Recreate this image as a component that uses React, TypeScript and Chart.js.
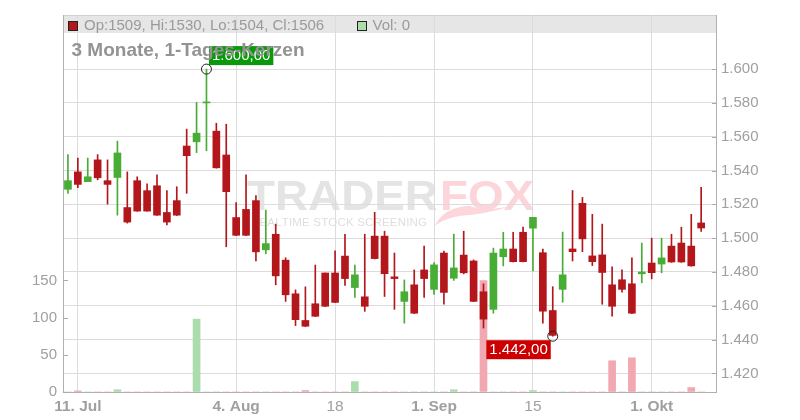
import React, { useEffect, useRef } from 'react';
import { Chart, registerables } from 'chart.js';

Chart.register(...registerables);

// ---- data (3 Monate, 1-Tages-Kerzen; index 0 = 10. Jul) ----
const opens = [1528.9, 1539.2, 1533.4, 1546.3, 1534.0, 1535.9, 1518.1, 1534.0, 1528.1, 1531.0,
  1515.2, 1522.2, 1554.5, 1557.0, 1580.0, 1563.3, 1549.2, 1512.2, 1517.0, 1522.2,
  1493.1, 1502.3, 1487.0, 1467.1, 1451.3, 1461.2, 1479.4, 1479.4, 1489.4, 1470.8,
  1465.3, 1501.2, 1501.2, 1477.1, 1462.6, 1472.4, 1481.2, 1469.7, 1491.2, 1476.3,
  1490.0, 1486.5, 1468.3, 1457.9, 1489.0, 1493.6, 1503.5, 1505.9, 1491.4, 1457.2,
  1469.7, 1493.6, 1520.6, 1489.5, 1490.1, 1472.4, 1475.4, 1473.0, 1478.9, 1485.3,
  1484.7, 1495.3, 1497.1, 1495.3, 1509];
const highs = [1549.4, 1547.4, 1547.4, 1549.4, 1546.3, 1557.4, 1539.2, 1536.3, 1532.2, 1537.5,
  1528.1, 1530.4, 1564.5, 1580.3, 1600.0, 1568.0, 1567.4, 1521.1, 1537.5, 1525.2,
  1516.6, 1508.3, 1488.4, 1469.4, 1471.2, 1484.1, 1479.4, 1492.5, 1502.3, 1484.1,
  1502.3, 1515.3, 1504.1, 1491.2, 1475.3, 1481.2, 1495.3, 1485.5, 1492.4, 1502.4,
  1504.1, 1487.1, 1473.0, 1494.1, 1503.5, 1503.5, 1506.5, 1512.3, 1493.6, 1471.3,
  1503.6, 1528.2, 1524.1, 1514.1, 1508.3, 1483.0, 1481.2, 1488.3, 1497.1, 1500.0,
  1500.0, 1502.3, 1506.5, 1514.1, 1530];
const lows = [1526.5, 1529.8, 1533.4, 1534.5, 1520.1, 1513.6, 1508.9, 1515.9, 1515.9, 1513.4,
  1507.8, 1513.4, 1526.5, 1550.6, 1551.7, 1541.4, 1494.9, 1501.5, 1501.5, 1486.5,
  1490.7, 1472.4, 1462.6, 1448.3, 1447.7, 1453.6, 1459.5, 1461.8, 1472.0, 1464.9,
  1456.7, 1487.7, 1465.5, 1457.9, 1449.7, 1455.4, 1465.0, 1466.7, 1460.9, 1475.0,
  1478.9, 1462.4, 1446.8, 1455.6, 1483.6, 1485.9, 1485.9, 1480.6, 1449.7, 1442.0,
  1462.1, 1486.5, 1492.0, 1483.8, 1460.9, 1453.8, 1468.0, 1455.4, 1473.6, 1475.9,
  1479.5, 1485.7, 1485.7, 1483.4, 1504];
const closes = [1534.0, 1531.8, 1536.3, 1535.7, 1531.8, 1550.4, 1509.5, 1516.0, 1516.0, 1513.6,
  1509.5, 1513.6, 1548.8, 1562.1, 1580.6, 1541.6, 1527.5, 1501.7, 1501.7, 1491.9,
  1496.8, 1477.7, 1466.5, 1451.8, 1447.9, 1453.8, 1459.7, 1462.0, 1476.1, 1478.3,
  1459.7, 1487.9, 1479.0, 1476.1, 1468.3, 1455.6, 1476.1, 1484.2, 1467.9, 1482.4,
  1479.5, 1462.6, 1452.1, 1491.2, 1493.6, 1486.1, 1486.1, 1512.3, 1456.8, 1442.5,
  1478.3, 1492.0, 1499.6, 1486.1, 1479.7, 1459.7, 1469.7, 1455.6, 1480.0, 1479.6,
  1488.3, 1485.9, 1485.9, 1483.6, 1506];
const volumes = [0, 1.5, 0, 0, 0, 3, 0, 0, 0, 0,
  0, 0, 0, 98, 0, 0, 0, 0, 0, 0,
  0, 0, 0, 0, 2, 0, 0, 0, 0, 14,
  0, 0, 0, 0, 0, 0, 0, 0, 0, 3,
  0, 0, 150, 0, 0, 0, 0, 2, 0, 0,
  0, 0, 0, 0, 0, 42, 0, 46, 0, 0,
  0, 0, 0, 6, 0];

const xTickIndex = [1, 17, 27, 37, 47, 59];
const xTickLabels = ['11. Jul', '4. Aug', '18', '1. Sep', '15', '1. Okt'];
const xTickBold = [true, true, false, true, false, true];
const priceTicks = [1420, 1440, 1460, 1480, 1500, 1520, 1540, 1560, 1580, 1600];
const volumeTicks = [0, 50, 100, 150];
const titleText = '3 Monate, 1-Tages-Kerzen';

const UP = '#47ad35';
const DOWN = '#b3161b';
const UP_VOL = '#abdcab';
const DOWN_VOL = '#f1a8b1';
const FONT = "'Liberation Sans', Arial, sans-serif";
const LABEL = '#a0a0a0';

function fmtDE(v: number, dec: number) {
  const parts = v.toFixed(dec).split('.');
  const withSep = parts[0].replace(/\B(?=(\d{3})+(?!\d))/g, '.');
  return parts[1] ? withSep + ',' + parts[1] : withSep;
}

const isUp = (i: number) => closes[i] >= opens[i];

const decor = {
  id: 'decor',
  beforeDraw(chart: any) {
    const { ctx, chartArea: a } = chart;
    ctx.save();
    // legend band
    ctx.fillStyle = '#e6e6e6';
    ctx.fillRect(a.left, a.top, a.right - a.left, 18);
    ctx.strokeStyle = '#d0d0d0';
    ctx.lineWidth = 1;
    ctx.beginPath();
    ctx.moveTo(a.left, a.top + 0.5);
    ctx.lineTo(a.right, a.top + 0.5);
    ctx.stroke();

    // watermark
    const cx = (a.left + a.right) / 2;
    ctx.font = `bold 43px ${FONT}`;
    ctx.textBaseline = 'alphabetic';
    ctx.textAlign = 'left';
    const wT = ctx.measureText('TRADER').width;
    const wF = ctx.measureText('FOX').width;
    const totalW = 285;
    const sx = totalW / (wT + wF);
    const x0 = cx - totalW / 2;
    const base = a.top + 194.7;
    ctx.save();
    ctx.translate(x0, base);
    ctx.scale(sx, 1);
    ctx.fillStyle = '#e4e4e4';
    ctx.fillText('TRADER', 0, 0);
    ctx.fillStyle = '#fcd5da';
    ctx.fillText('FOX', wT + 2, 0);
    ctx.restore();

    // fox tail swoosh
    ctx.fillStyle = '#fcd6db';
    ctx.beginPath();
    ctx.moveTo(x0 + 188, base + 16);
    ctx.quadraticCurveTo(x0 + 196, base - 2, x0 + 222, base - 4);
    ctx.lineTo(x0 + 232, base - 1);
    ctx.lineTo(x0 + 240, base - 5);
    ctx.lineTo(x0 + 246, base - 1);
    ctx.lineTo(x0 + 262, base - 3);
    ctx.quadraticCurveTo(x0 + 240, base + 4, x0 + 214, base + 6);
    ctx.quadraticCurveTo(x0 + 198, base + 8, x0 + 188, base + 16);
    ctx.fill();

    // subline
    const sub = 'REALTIME STOCK SCREENING';
    ctx.font = `11.5px ${FONT}`;
    ctx.fillStyle = '#dedede';
    let natural = 0;
    for (const ch of sub) natural += ctx.measureText(ch).width;
    const targetW = 176;
    const gap = (targetW - natural) / (sub.length - 1);
    let px = x0 + 4;
    for (const ch of sub) {
      ctx.fillText(ch, px, base + 16.6);
      px += ctx.measureText(ch).width + gap;
    }
    ctx.restore();
  },
  afterDatasetsDraw(chart: any) {
    const { ctx } = chart;
    const xs = chart.scales.x;
    const ys = chart.scales.y;
    ctx.save();
    ctx.font = `15px ${FONT}`;
    ctx.textBaseline = 'middle';
    ctx.textAlign = 'left';
    // high marker
    const hiVal = Math.max(...highs);
    const hiIdx = highs.indexOf(hiVal);
    const hx = xs.getPixelForValue(hiIdx);
    const hy = ys.getPixelForValue(hiVal);
    const ht = fmtDE(hiVal, 2);
    const htw = ctx.measureText(ht).width + 6;
    ctx.fillStyle = '#0b990b';
    ctx.fillRect(hx + 2.5, hy - 23, htw, 19);
    ctx.fillStyle = '#ffffff';
    ctx.fillText(ht, hx + 5.5, hy - 13);
    ctx.strokeStyle = '#222';
    ctx.lineWidth = 1;
    ctx.beginPath();
    ctx.arc(hx, hy, 5, 0, Math.PI * 2);
    ctx.stroke();
    // low marker
    const loVal = Math.min(...lows);
    const loIdx = lows.indexOf(loVal);
    const lx = xs.getPixelForValue(loIdx);
    const ly = ys.getPixelForValue(loVal);
    const lt = fmtDE(loVal, 2);
    const ltw = ctx.measureText(lt).width + 6;
    ctx.fillStyle = '#cc0000';
    ctx.fillRect(lx - 2 - ltw, ly + 4, ltw, 19);
    ctx.fillStyle = '#ffffff';
    ctx.fillText(lt, lx - 2 - ltw + 3, ly + 14);
    ctx.beginPath();
    ctx.arc(lx, ly, 5, 0, Math.PI * 2);
    ctx.stroke();
    ctx.restore();
  },
  afterDraw(chart: any) {
    const { ctx, chartArea: a } = chart;
    ctx.save();
    // inner tick marks
    ctx.strokeStyle = '#aaaaaa';
    ctx.lineWidth = 1;
    chart.scales.y.ticks.forEach((t: any) => {
      const y = Math.round(chart.scales.y.getPixelForValue(t.value)) + 0.5;
      ctx.beginPath();
      ctx.moveTo(a.right - 4, y);
      ctx.lineTo(a.right, y);
      ctx.stroke();
    });
    chart.scales.yv.ticks.forEach((t: any) => {
      const y = Math.round(chart.scales.yv.getPixelForValue(t.value)) + 0.5;
      ctx.beginPath();
      ctx.moveTo(a.left, y);
      ctx.lineTo(a.left + 5, y);
      ctx.stroke();
    });

    // legend row
    const last = closes.length - 1;
    ctx.font = `15px ${FONT}`;
    ctx.textBaseline = 'middle';
    ctx.textAlign = 'left';
    ctx.fillStyle = isUp(last) ? UP : DOWN;
    ctx.fillRect(a.left + 5.5, a.top + 6.5, 9, 9);
    ctx.strokeStyle = '#222';
    ctx.strokeRect(a.left + 5.5, a.top + 6.5, 9, 9);
    ctx.fillStyle = '#9a9a9a';
    ctx.fillText(`Op:${Math.round(opens[last])}, Hi:${Math.round(highs[last])}, Lo:${Math.round(lows[last])}, Cl:${Math.round(closes[last])}`, a.left + 21, a.top + 10.5);
    ctx.fillStyle = UP_VOL;
    ctx.fillRect(a.left + 294.5, a.top + 6.5, 9, 9);
    ctx.strokeRect(a.left + 294.5, a.top + 6.5, 9, 9);
    ctx.fillStyle = '#9a9a9a';
    ctx.fillText(`Vol: ${volumes[last]}`, a.left + 309.5, a.top + 10.5);

    // title
    ctx.font = `bold 19px ${FONT}`;
    ctx.fillStyle = '#939393';
    ctx.fillText(titleText, a.left + 8.5, a.top + 36);
    ctx.restore();
  },
};

export default function App() {
  const ref = useRef<HTMLCanvasElement | null>(null);

  useEffect(() => {
    document.body.style.margin = '0';
    const canvas = ref.current;
    if (!canvas) return;
    Chart.defaults.font.family = FONT;

    const idx = opens.map((_, i) => i);
    const chart = new Chart(canvas, {
      type: 'bar',
      data: {
        datasets: [
          {
            label: 'Vol',
            yAxisID: 'yv',
            data: idx.map((i) => ({ x: i, y: volumes[i] })),
            backgroundColor: idx.map((i) => (isUp(i) ? UP_VOL : DOWN_VOL)),
            barThickness: 7,
            grouped: false,
            order: 3,
          } as any,
          {
            label: 'wick',
            yAxisID: 'y',
            data: idx.map((i) => ({ x: i, y: [lows[i], highs[i]] })),
            backgroundColor: idx.map((i) => (isUp(i) ? UP : DOWN)),
            barThickness: 1,
            grouped: false,
            order: 2,
          } as any,
          {
            label: 'body',
            yAxisID: 'y',
            data: idx.map((i) => ({ x: i, y: [opens[i], closes[i]] })),
            backgroundColor: idx.map((i) => (isUp(i) ? UP : DOWN)),
            barThickness: 7,
            grouped: false,
            order: 1,
          } as any,
        ],
      },
      options: {
        responsive: false,
        maintainAspectRatio: false,
        animation: false,
        devicePixelRatio: 1,
        events: [],
        layout: { padding: { top: 12, left: 0, right: 0, bottom: 0 } },
        plugins: { legend: { display: false }, tooltip: { enabled: false } },
        scales: {
          x: {
            type: 'linear',
            min: -0.5,
            max: 65.5,
            offset: false,
            afterBuildTicks: (scale: any) => {
              scale.ticks = xTickIndex.map((v) => ({ value: v }));
            },
            afterFit: (scale: any) => {
              scale.height = 28;
            },
            grid: { color: '#dcdcdc', drawTicks: false, offset: false },
            border: { color: '#b0b0b0' },
            ticks: {
              autoSkip: false,
              maxRotation: 0,
              padding: 5,
              color: LABEL,
              font: (c: any) => {
                const k = c && c.tick ? xTickIndex.indexOf(c.tick.value) : -1;
                return { family: FONT, size: 15.5, weight: k >= 0 && xTickBold[k] ? 'bold' : 'normal' };
              },
              callback: (v: any) => {
                const k = xTickIndex.indexOf(Number(v));
                return k >= 0 ? xTickLabels[k] : '';
              },
            },
          } as any,
          y: {
            type: 'linear',
            position: 'right',
            min: 1409,
            max: 1632,
            afterBuildTicks: (scale: any) => {
              scale.ticks = priceTicks.map((v) => ({ value: v }));
            },
            afterFit: (scale: any) => {
              scale.width = 84;
            },
            grid: { color: '#dcdcdc', drawTicks: false },
            border: { color: '#b0b0b0' },
            ticks: {
              padding: 5,
              color: LABEL,
              font: { family: FONT, size: 15 },
              callback: (v: any) => fmtDE(Number(v), 0),
            },
          } as any,
          yv: {
            type: 'linear',
            axis: 'y',
            position: 'left',
            min: 0,
            max: 507,
            afterBuildTicks: (scale: any) => {
              scale.ticks = volumeTicks.map((v) => ({ value: v }));
            },
            afterFit: (scale: any) => {
              scale.width = 63;
            },
            grid: { drawOnChartArea: false, drawTicks: false },
            border: { color: '#b0b0b0' },
            ticks: {
              padding: 6,
              color: LABEL,
              font: { family: FONT, size: 15 },
              callback: (v: any) => String(v),
            },
          } as any,
        },
      },
      plugins: [decor],
    } as any);

    return () => chart.destroy();
  }, []);

  return (
    <div style={{ position: 'fixed', left: 0, top: 0, width: 800, height: 420, background: '#fff' }}>
      <canvas ref={ref} width={800} height={420} />
    </div>
  );
}
